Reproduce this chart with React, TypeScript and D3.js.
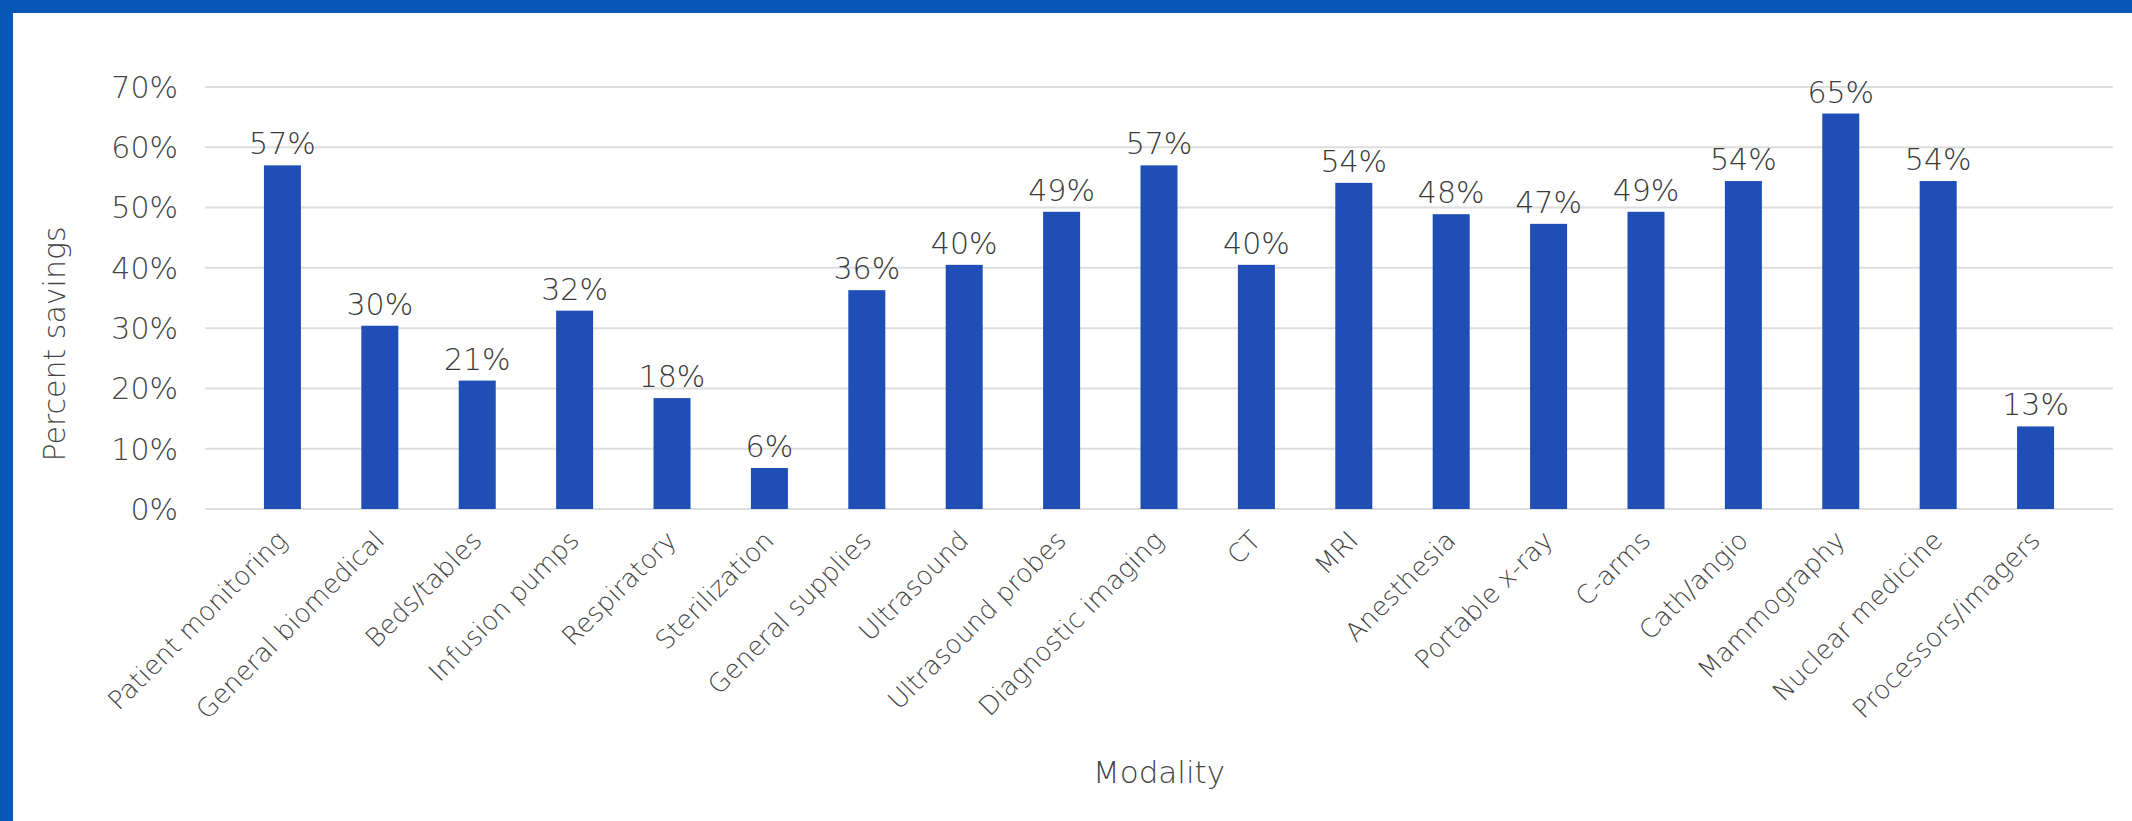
import React from "react";
import * as d3 from "d3";

const categories = [
  "Patient monitoring",
  "General biomedical",
  "Beds/tables",
  "Infusion pumps",
  "Respiratory",
  "Sterilization",
  "General supplies",
  "Ultrasound",
  "Ultrasound probes",
  "Diagnostic imaging",
  "CT",
  "MRI",
  "Anesthesia",
  "Portable x-ray",
  "C-arms",
  "Cath/angio",
  "Mammography",
  "Nuclear medicine",
  "Processors/imagers",
];

const savings = [57.0, 30.4, 21.3, 32.9, 18.4, 6.8, 36.3, 40.5, 49.3, 57.0, 40.5, 54.1, 48.9, 47.3, 49.3, 54.4, 65.6, 54.4, 13.7];

const yTicks = [0, 10, 20, 30, 40, 50, 60, 70];

const W = 2132;
const H = 821;
const FONT = "'DejaVu Sans', sans-serif";

export default function App() {
  const left = 205;
  const right = 2113;
  const top = 87;
  const bottom = 509;

  const x = d3
    .scaleBand<string>()
    .domain(categories)
    .range([left, right])
    .paddingInner(0.62)
    .paddingOuter(0.605);

  const y = d3.scaleLinear().domain([0, 70]).range([bottom, top]);

  const fmt = (v: number) => `${Math.floor(v)}%`;

  return (
    <svg
      width={W}
      height={H}
      style={{ position: "absolute", left: 0, top: 0, background: "#fff" }}
      fontFamily={FONT}
    >
      <rect x={0} y={0} width={W} height={H} fill="#ffffff" />
      {/* frame */}
      <rect x={0} y={0} width={W} height={13} fill="#0757b9" />
      <rect x={0} y={0} width={13} height={H} fill="#0757b9" />

      {/* gridlines */}
      {yTicks.map((t) => (
        <line
          key={"g" + t}
          x1={left}
          x2={right}
          y1={y(t)}
          y2={y(t)}
          stroke="#dedede"
          strokeWidth={2}
        />
      ))}

      {/* y tick labels */}
      {yTicks.map((t) => (
        <text
          key={"yt" + t}
          x={178}
          y={y(t)}
          dy="0.36em"
          textAnchor="end"
          fontSize={30}
          fontWeight={200}
          fill="#444"
        >
          {t}%
        </text>
      ))}

      {/* bars */}
      {categories.map((c, i) => (
        <rect
          key={"b" + c}
          x={x(c)}
          y={y(savings[i])}
          width={x.bandwidth()}
          height={y(0) - y(savings[i])}
          fill="#1f4fb6"
        />
      ))}

      {/* value labels */}
      {categories.map((c, i) => (
        <text
          key={"v" + c}
          x={(x(c) as number) + x.bandwidth() / 2}
          y={y(savings[i]) - 11}
          textAnchor="middle"
          fontSize={30}
          fontWeight={200}
          fill="#3a3a3a"
        >
          {fmt(savings[i])}
        </text>
      ))}

      {/* x tick labels */}
      {categories.map((c) => {
        const cx = (x(c) as number) + x.bandwidth() / 2;
        return (
          <text
            key={"xt" + c}
            transform={`translate(${cx + 6},${bottom + 33}) rotate(-45)`}
            textAnchor="end"
            fontSize={26}
            fontWeight={200}
            fill="#444"
          >
            {c}
          </text>
        );
      })}

      {/* axis titles */}
      <text
        x={(left + right) / 2}
        y={783}
        textAnchor="middle"
        fontSize={31}
        fontWeight={200}
        fill="#444"
      >
        Modality
      </text>
      <text
        transform={`translate(65,${344}) rotate(-90)`}
        textAnchor="middle"
        fontSize={30}
        fontWeight={200}
        fill="#444"
      >
        Percent savings
      </text>
    </svg>
  );
}
